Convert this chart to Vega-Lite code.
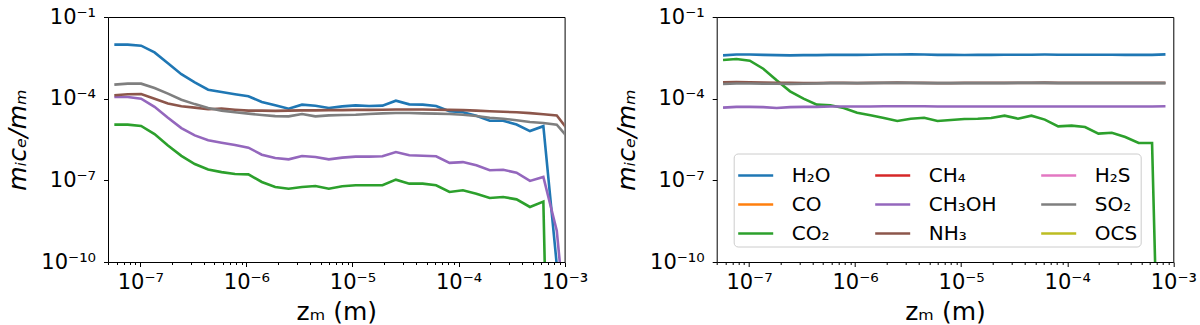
{
  "$schema": "https://vega.github.io/schema/vega-lite/v6.json",
  "padding": {"left": 5, "top": 5, "right": 5, "bottom": 5},
  "bounds": "flush",
  "spacing": 151.7,
  "datasets": {
    "L": [
      {"s": "H₂O", "z": 5.69e-8, "m": 9.64e-3}, {"s": "H₂O", "z": 7.61e-8, "m": 9.64e-3}, {"s": "H₂O", "z": 1.018e-7, "m": 8.85e-3}, {"s": "H₂O", "z": 1.362e-7, "m": 5.01e-3}, {"s": "H₂O", "z": 1.822e-7, "m": 2.0e-3}, {"s": "H₂O", "z": 2.438e-7, "m": 7.94e-4}, {"s": "H₂O", "z": 3.262e-7, "m": 3.98e-4}, {"s": "H₂O", "z": 4.363e-7, "m": 2.14e-4}, {"s": "H₂O", "z": 5.837e-7, "m": 1.76e-4}, {"s": "H₂O", "z": 7.809e-7, "m": 1.45e-4}, {"s": "H₂O", "z": 1.045e-6, "m": 1.22e-4}, {"s": "H₂O", "z": 1.398e-6, "m": 7.55e-5}, {"s": "H₂O", "z": 1.870e-6, "m": 5.69e-5}, {"s": "H₂O", "z": 2.502e-6, "m": 4.30e-5}, {"s": "H₂O", "z": 3.347e-6, "m": 6.03e-5}, {"s": "H₂O", "z": 4.477e-6, "m": 5.53e-5}, {"s": "H₂O", "z": 5.990e-6, "m": 4.54e-5}, {"s": "H₂O", "z": 8.013e-6, "m": 5.22e-5}, {"s": "H₂O", "z": 1.072e-5, "m": 5.69e-5}, {"s": "H₂O", "z": 1.434e-5, "m": 5.37e-5}, {"s": "H₂O", "z": 1.919e-5, "m": 5.53e-5}, {"s": "H₂O", "z": 2.567e-5, "m": 8.45e-5}, {"s": "H₂O", "z": 3.434e-5, "m": 6.19e-5}, {"s": "H₂O", "z": 4.594e-5, "m": 6.03e-5}, {"s": "H₂O", "z": 6.146e-5, "m": 5.37e-5}, {"s": "H₂O", "z": 8.222e-5, "m": 3.47e-5}, {"s": "H₂O", "z": 1.100e-4, "m": 3.16e-5}, {"s": "H₂O", "z": 1.472e-4, "m": 2.34e-5}, {"s": "H₂O", "z": 1.969e-4, "m": 1.55e-5}, {"s": "H₂O", "z": 2.634e-4, "m": 1.55e-5}, {"s": "H₂O", "z": 3.524e-4, "m": 1.12e-5}, {"s": "H₂O", "z": 4.714e-4, "m": 6.46e-6}, {"s": "H₂O", "z": 6.306e-4, "m": 9.77e-6}, {"s": "H₂O", "z": 8.437e-4, "m": 7.9e-11}, {"s": "H₂O", "z": 1.129e-3, "m": 1e-14},

      {"s": "CO₂", "z": 5.69e-8, "m": 1.11e-5}, {"s": "CO₂", "z": 7.61e-8, "m": 1.11e-5}, {"s": "CO₂", "z": 1.018e-7, "m": 9.91e-6}, {"s": "CO₂", "z": 1.362e-7, "m": 5.01e-6}, {"s": "CO₂", "z": 1.822e-7, "m": 1.91e-6}, {"s": "CO₂", "z": 2.438e-7, "m": 7.94e-7}, {"s": "CO₂", "z": 3.262e-7, "m": 3.98e-7}, {"s": "CO₂", "z": 4.363e-7, "m": 2.51e-7}, {"s": "CO₂", "z": 5.837e-7, "m": 2.0e-7}, {"s": "CO₂", "z": 7.809e-7, "m": 1.70e-7}, {"s": "CO₂", "z": 1.045e-6, "m": 1.66e-7}, {"s": "CO₂", "z": 1.398e-6, "m": 8.71e-8}, {"s": "CO₂", "z": 1.870e-6, "m": 5.69e-8}, {"s": "CO₂", "z": 2.502e-6, "m": 4.94e-8}, {"s": "CO₂", "z": 3.347e-6, "m": 5.69e-8}, {"s": "CO₂", "z": 4.477e-6, "m": 6.19e-8}, {"s": "CO₂", "z": 5.990e-6, "m": 4.94e-8}, {"s": "CO₂", "z": 8.013e-6, "m": 6.03e-8}, {"s": "CO₂", "z": 1.072e-5, "m": 6.56e-8}, {"s": "CO₂", "z": 1.434e-5, "m": 6.56e-8}, {"s": "CO₂", "z": 1.919e-5, "m": 6.56e-8}, {"s": "CO₂", "z": 2.567e-5, "m": 1.06e-7}, {"s": "CO₂", "z": 3.434e-5, "m": 7.55e-8}, {"s": "CO₂", "z": 4.594e-5, "m": 7.55e-8}, {"s": "CO₂", "z": 6.146e-5, "m": 6.56e-8}, {"s": "CO₂", "z": 8.222e-5, "m": 3.72e-8}, {"s": "CO₂", "z": 1.100e-4, "m": 4.30e-8}, {"s": "CO₂", "z": 1.472e-4, "m": 3.24e-8}, {"s": "CO₂", "z": 1.969e-4, "m": 2.24e-8}, {"s": "CO₂", "z": 2.634e-4, "m": 2.45e-8}, {"s": "CO₂", "z": 3.524e-4, "m": 2.0e-8}, {"s": "CO₂", "z": 4.714e-4, "m": 1.05e-8}, {"s": "CO₂", "z": 6.306e-4, "m": 1.66e-8}, {"s": "CO₂", "z": 8.437e-4, "m": 1e-30}, {"s": "CO₂", "z": 1.129e-3, "m": 1e-30},

      {"s": "CH₃OH", "z": 5.69e-8, "m": 1.15e-4}, {"s": "CH₃OH", "z": 7.61e-8, "m": 1.15e-4}, {"s": "CH₃OH", "z": 1.018e-7, "m": 1.0e-4}, {"s": "CH₃OH", "z": 1.362e-7, "m": 5.01e-5}, {"s": "CH₃OH", "z": 1.822e-7, "m": 2.0e-5}, {"s": "CH₃OH", "z": 2.438e-7, "m": 8.32e-6}, {"s": "CH₃OH", "z": 3.262e-7, "m": 4.47e-6}, {"s": "CH₃OH", "z": 4.363e-7, "m": 2.95e-6}, {"s": "CH₃OH", "z": 5.837e-7, "m": 2.40e-6}, {"s": "CH₃OH", "z": 7.809e-7, "m": 2.0e-6}, {"s": "CH₃OH", "z": 1.045e-6, "m": 1.58e-6}, {"s": "CH₃OH", "z": 1.398e-6, "m": 8.77e-7}, {"s": "CH₃OH", "z": 1.870e-6, "m": 6.61e-7}, {"s": "CH₃OH", "z": 2.502e-6, "m": 5.89e-7}, {"s": "CH₃OH", "z": 3.347e-6, "m": 7.83e-7}, {"s": "CH₃OH", "z": 4.477e-6, "m": 7.19e-7}, {"s": "CH₃OH", "z": 5.990e-6, "m": 5.89e-7}, {"s": "CH₃OH", "z": 8.013e-6, "m": 6.81e-7}, {"s": "CH₃OH", "z": 1.072e-5, "m": 7.41e-7}, {"s": "CH₃OH", "z": 1.434e-5, "m": 7.41e-7}, {"s": "CH₃OH", "z": 1.919e-5, "m": 7.62e-7}, {"s": "CH₃OH", "z": 2.567e-5, "m": 1.10e-6}, {"s": "CH₃OH", "z": 3.434e-5, "m": 8.32e-7}, {"s": "CH₃OH", "z": 4.594e-5, "m": 8.05e-7}, {"s": "CH₃OH", "z": 6.146e-5, "m": 7.62e-7}, {"s": "CH₃OH", "z": 8.222e-5, "m": 4.37e-7}, {"s": "CH₃OH", "z": 1.100e-4, "m": 4.68e-7}, {"s": "CH₃OH", "z": 1.472e-4, "m": 3.55e-7}, {"s": "CH₃OH", "z": 1.969e-4, "m": 2.34e-7}, {"s": "CH₃OH", "z": 2.634e-4, "m": 2.45e-7}, {"s": "CH₃OH", "z": 3.524e-4, "m": 1.91e-7}, {"s": "CH₃OH", "z": 4.714e-4, "m": 9.55e-8}, {"s": "CH₃OH", "z": 6.306e-4, "m": 1.33e-7}, {"s": "CH₃OH", "z": 8.437e-4, "m": 1.41e-9}, {"s": "CH₃OH", "z": 1.129e-3, "m": 1e-14},

      {"s": "NH₃", "z": 5.69e-8, "m": 1.33e-4}, {"s": "NH₃", "z": 7.61e-8, "m": 1.45e-4}, {"s": "NH₃", "z": 1.018e-7, "m": 1.49e-4}, {"s": "NH₃", "z": 1.362e-7, "m": 1.0e-4}, {"s": "NH₃", "z": 1.822e-7, "m": 6.61e-5}, {"s": "NH₃", "z": 2.438e-7, "m": 5.25e-5}, {"s": "NH₃", "z": 3.262e-7, "m": 4.68e-5}, {"s": "NH₃", "z": 4.363e-7, "m": 4.07e-5}, {"s": "NH₃", "z": 5.837e-7, "m": 4.30e-5}, {"s": "NH₃", "z": 7.809e-7, "m": 3.94e-5}, {"s": "NH₃", "z": 1.045e-6, "m": 3.63e-5}, {"s": "NH₃", "z": 1.398e-6, "m": 3.63e-5}, {"s": "NH₃", "z": 1.870e-6, "m": 3.55e-5}, {"s": "NH₃", "z": 2.502e-6, "m": 3.63e-5}, {"s": "NH₃", "z": 3.347e-6, "m": 3.72e-5}, {"s": "NH₃", "z": 4.477e-6, "m": 3.72e-5}, {"s": "NH₃", "z": 5.990e-6, "m": 3.80e-5}, {"s": "NH₃", "z": 8.013e-6, "m": 3.80e-5}, {"s": "NH₃", "z": 1.072e-5, "m": 3.89e-5}, {"s": "NH₃", "z": 1.434e-5, "m": 3.89e-5}, {"s": "NH₃", "z": 1.919e-5, "m": 3.94e-5}, {"s": "NH₃", "z": 2.567e-5, "m": 3.98e-5}, {"s": "NH₃", "z": 3.434e-5, "m": 3.98e-5}, {"s": "NH₃", "z": 4.594e-5, "m": 3.98e-5}, {"s": "NH₃", "z": 6.146e-5, "m": 3.94e-5}, {"s": "NH₃", "z": 8.222e-5, "m": 3.89e-5}, {"s": "NH₃", "z": 1.100e-4, "m": 3.80e-5}, {"s": "NH₃", "z": 1.472e-4, "m": 3.63e-5}, {"s": "NH₃", "z": 1.969e-4, "m": 3.47e-5}, {"s": "NH₃", "z": 2.634e-4, "m": 3.31e-5}, {"s": "NH₃", "z": 3.524e-4, "m": 3.16e-5}, {"s": "NH₃", "z": 4.714e-4, "m": 2.95e-5}, {"s": "NH₃", "z": 6.306e-4, "m": 2.69e-5}, {"s": "NH₃", "z": 8.437e-4, "m": 2.40e-5}, {"s": "NH₃", "z": 1.129e-3, "m": 5.62e-6},

      {"s": "SO₂", "z": 5.69e-8, "m": 3.27e-4}, {"s": "SO₂", "z": 7.61e-8, "m": 3.56e-4}, {"s": "SO₂", "z": 1.018e-7, "m": 3.56e-4}, {"s": "SO₂", "z": 1.362e-7, "m": 2.47e-4}, {"s": "SO₂", "z": 1.822e-7, "m": 1.53e-4}, {"s": "SO₂", "z": 2.438e-7, "m": 9.18e-5}, {"s": "SO₂", "z": 3.262e-7, "m": 6.31e-5}, {"s": "SO₂", "z": 4.363e-7, "m": 4.57e-5}, {"s": "SO₂", "z": 5.837e-7, "m": 3.63e-5}, {"s": "SO₂", "z": 7.809e-7, "m": 3.16e-5}, {"s": "SO₂", "z": 1.045e-6, "m": 2.82e-5}, {"s": "SO₂", "z": 1.398e-6, "m": 2.51e-5}, {"s": "SO₂", "z": 1.870e-6, "m": 2.29e-5}, {"s": "SO₂", "z": 2.502e-6, "m": 2.24e-5}, {"s": "SO₂", "z": 3.347e-6, "m": 2.74e-5}, {"s": "SO₂", "z": 4.477e-6, "m": 2.24e-5}, {"s": "SO₂", "z": 5.990e-6, "m": 2.44e-5}, {"s": "SO₂", "z": 8.013e-6, "m": 2.51e-5}, {"s": "SO₂", "z": 1.072e-5, "m": 2.58e-5}, {"s": "SO₂", "z": 1.434e-5, "m": 2.74e-5}, {"s": "SO₂", "z": 1.919e-5, "m": 2.89e-5}, {"s": "SO₂", "z": 2.567e-5, "m": 2.98e-5}, {"s": "SO₂", "z": 3.434e-5, "m": 2.98e-5}, {"s": "SO₂", "z": 4.594e-5, "m": 2.89e-5}, {"s": "SO₂", "z": 6.146e-5, "m": 2.82e-5}, {"s": "SO₂", "z": 8.222e-5, "m": 2.74e-5}, {"s": "SO₂", "z": 1.100e-4, "m": 2.58e-5}, {"s": "SO₂", "z": 1.472e-4, "m": 2.31e-5}, {"s": "SO₂", "z": 1.969e-4, "m": 2.0e-5}, {"s": "SO₂", "z": 2.634e-4, "m": 1.84e-5}, {"s": "SO₂", "z": 3.524e-4, "m": 1.60e-5}, {"s": "SO₂", "z": 4.714e-4, "m": 1.39e-5}, {"s": "SO₂", "z": 6.306e-4, "m": 1.28e-5}, {"s": "SO₂", "z": 8.437e-4, "m": 1.10e-5}, {"s": "SO₂", "z": 1.129e-3, "m": 2.95e-6}
    ],
    "R": [
      {"s": "H₂O", "z": 5.69e-8, "m": 3.89e-3}, {"s": "H₂O", "z": 7.61e-8, "m": 4.17e-3}, {"s": "H₂O", "z": 1.018e-7, "m": 4.17e-3}, {"s": "H₂O", "z": 1.362e-7, "m": 4.07e-3}, {"s": "H₂O", "z": 1.822e-7, "m": 3.98e-3}, {"s": "H₂O", "z": 2.438e-7, "m": 3.89e-3}, {"s": "H₂O", "z": 3.262e-7, "m": 3.98e-3}, {"s": "H₂O", "z": 4.363e-7, "m": 3.98e-3}, {"s": "H₂O", "z": 5.837e-7, "m": 4.07e-3}, {"s": "H₂O", "z": 7.809e-7, "m": 4.07e-3}, {"s": "H₂O", "z": 1.045e-6, "m": 4.07e-3}, {"s": "H₂O", "z": 1.398e-6, "m": 4.12e-3}, {"s": "H₂O", "z": 1.870e-6, "m": 4.17e-3}, {"s": "H₂O", "z": 2.502e-6, "m": 4.17e-3}, {"s": "H₂O", "z": 3.347e-6, "m": 4.22e-3}, {"s": "H₂O", "z": 4.477e-6, "m": 4.17e-3}, {"s": "H₂O", "z": 5.990e-6, "m": 4.07e-3}, {"s": "H₂O", "z": 8.013e-6, "m": 4.07e-3}, {"s": "H₂O", "z": 1.072e-5, "m": 4.03e-3}, {"s": "H₂O", "z": 1.434e-5, "m": 4.07e-3}, {"s": "H₂O", "z": 1.919e-5, "m": 4.07e-3}, {"s": "H₂O", "z": 2.567e-5, "m": 4.12e-3}, {"s": "H₂O", "z": 3.434e-5, "m": 4.12e-3}, {"s": "H₂O", "z": 4.594e-5, "m": 4.12e-3}, {"s": "H₂O", "z": 6.146e-5, "m": 4.17e-3}, {"s": "H₂O", "z": 8.222e-5, "m": 4.12e-3}, {"s": "H₂O", "z": 1.100e-4, "m": 4.12e-3}, {"s": "H₂O", "z": 1.472e-4, "m": 4.12e-3}, {"s": "H₂O", "z": 1.969e-4, "m": 4.12e-3}, {"s": "H₂O", "z": 2.634e-4, "m": 4.12e-3}, {"s": "H₂O", "z": 3.524e-4, "m": 4.07e-3}, {"s": "H₂O", "z": 4.714e-4, "m": 4.07e-3}, {"s": "H₂O", "z": 6.306e-4, "m": 4.07e-3}, {"s": "H₂O", "z": 8.437e-4, "m": 4.22e-3},

      {"s": "CO₂", "z": 5.69e-8, "m": 2.63e-3}, {"s": "CO₂", "z": 7.61e-8, "m": 2.86e-3}, {"s": "CO₂", "z": 1.018e-7, "m": 2.49e-3}, {"s": "CO₂", "z": 1.362e-7, "m": 1.26e-3}, {"s": "CO₂", "z": 1.822e-7, "m": 4.72e-4}, {"s": "CO₂", "z": 2.438e-7, "m": 1.86e-4}, {"s": "CO₂", "z": 3.262e-7, "m": 1.0e-4}, {"s": "CO₂", "z": 4.363e-7, "m": 6.03e-5}, {"s": "CO₂", "z": 5.837e-7, "m": 5.69e-5}, {"s": "CO₂", "z": 7.809e-7, "m": 4.54e-5}, {"s": "CO₂", "z": 1.045e-6, "m": 3.06e-5}, {"s": "CO₂", "z": 1.398e-6, "m": 2.44e-5}, {"s": "CO₂", "z": 1.870e-6, "m": 1.95e-5}, {"s": "CO₂", "z": 2.502e-6, "m": 1.51e-5}, {"s": "CO₂", "z": 3.347e-6, "m": 1.84e-5}, {"s": "CO₂", "z": 4.477e-6, "m": 2.0e-5}, {"s": "CO₂", "z": 5.990e-6, "m": 1.51e-5}, {"s": "CO₂", "z": 8.013e-6, "m": 1.64e-5}, {"s": "CO₂", "z": 1.072e-5, "m": 1.79e-5}, {"s": "CO₂", "z": 1.434e-5, "m": 1.84e-5}, {"s": "CO₂", "z": 1.919e-5, "m": 1.95e-5}, {"s": "CO₂", "z": 2.567e-5, "m": 2.38e-5}, {"s": "CO₂", "z": 3.434e-5, "m": 1.84e-5}, {"s": "CO₂", "z": 4.594e-5, "m": 2.38e-5}, {"s": "CO₂", "z": 6.146e-5, "m": 1.70e-5}, {"s": "CO₂", "z": 8.222e-5, "m": 9.64e-6}, {"s": "CO₂", "z": 1.100e-4, "m": 1.02e-5}, {"s": "CO₂", "z": 1.472e-4, "m": 9.12e-6}, {"s": "CO₂", "z": 1.969e-4, "m": 5.18e-6}, {"s": "CO₂", "z": 2.634e-4, "m": 5.62e-6}, {"s": "CO₂", "z": 3.524e-4, "m": 3.91e-6}, {"s": "CO₂", "z": 4.714e-4, "m": 2.36e-6}, {"s": "CO₂", "z": 6.306e-4, "m": 2.36e-6}, {"s": "CO₂", "z": 8.437e-4, "m": 1e-25},

      {"s": "CH₃OH", "z": 5.69e-8, "m": 4.68e-5}, {"s": "CH₃OH", "z": 7.61e-8, "m": 5.01e-5}, {"s": "CH₃OH", "z": 1.018e-7, "m": 5.01e-5}, {"s": "CH₃OH", "z": 1.362e-7, "m": 4.90e-5}, {"s": "CH₃OH", "z": 1.822e-7, "m": 4.57e-5}, {"s": "CH₃OH", "z": 2.438e-7, "m": 4.90e-5}, {"s": "CH₃OH", "z": 3.262e-7, "m": 5.01e-5}, {"s": "CH₃OH", "z": 4.363e-7, "m": 5.01e-5}, {"s": "CH₃OH", "z": 5.837e-7, "m": 5.13e-5}, {"s": "CH₃OH", "z": 7.809e-7, "m": 5.13e-5}, {"s": "CH₃OH", "z": 1.045e-6, "m": 5.13e-5}, {"s": "CH₃OH", "z": 1.398e-6, "m": 5.13e-5}, {"s": "CH₃OH", "z": 1.870e-6, "m": 5.25e-5}, {"s": "CH₃OH", "z": 2.502e-6, "m": 5.25e-5}, {"s": "CH₃OH", "z": 3.347e-6, "m": 5.25e-5}, {"s": "CH₃OH", "z": 4.477e-6, "m": 5.25e-5}, {"s": "CH₃OH", "z": 5.990e-6, "m": 5.13e-5}, {"s": "CH₃OH", "z": 8.013e-6, "m": 5.13e-5}, {"s": "CH₃OH", "z": 1.072e-5, "m": 5.13e-5}, {"s": "CH₃OH", "z": 1.434e-5, "m": 5.13e-5}, {"s": "CH₃OH", "z": 1.919e-5, "m": 5.13e-5}, {"s": "CH₃OH", "z": 2.567e-5, "m": 5.13e-5}, {"s": "CH₃OH", "z": 3.434e-5, "m": 5.13e-5}, {"s": "CH₃OH", "z": 4.594e-5, "m": 5.13e-5}, {"s": "CH₃OH", "z": 6.146e-5, "m": 5.13e-5}, {"s": "CH₃OH", "z": 8.222e-5, "m": 5.13e-5}, {"s": "CH₃OH", "z": 1.100e-4, "m": 5.13e-5}, {"s": "CH₃OH", "z": 1.472e-4, "m": 5.13e-5}, {"s": "CH₃OH", "z": 1.969e-4, "m": 5.13e-5}, {"s": "CH₃OH", "z": 2.634e-4, "m": 5.13e-5}, {"s": "CH₃OH", "z": 3.524e-4, "m": 5.13e-5}, {"s": "CH₃OH", "z": 4.714e-4, "m": 5.13e-5}, {"s": "CH₃OH", "z": 6.306e-4, "m": 5.13e-5}, {"s": "CH₃OH", "z": 8.437e-4, "m": 5.25e-5},

      {"s": "NH₃", "z": 5.69e-8, "m": 3.98e-4}, {"s": "NH₃", "z": 7.61e-8, "m": 4.07e-4}, {"s": "NH₃", "z": 1.018e-7, "m": 3.98e-4}, {"s": "NH₃", "z": 1.362e-7, "m": 3.89e-4}, {"s": "NH₃", "z": 1.822e-7, "m": 3.80e-4}, {"s": "NH₃", "z": 2.438e-7, "m": 3.80e-4}, {"s": "NH₃", "z": 3.262e-7, "m": 3.72e-4}, {"s": "NH₃", "z": 4.363e-7, "m": 3.72e-4}, {"s": "NH₃", "z": 5.837e-7, "m": 3.80e-4}, {"s": "NH₃", "z": 7.809e-7, "m": 3.80e-4}, {"s": "NH₃", "z": 1.045e-6, "m": 3.72e-4}, {"s": "NH₃", "z": 1.398e-6, "m": 3.80e-4}, {"s": "NH₃", "z": 1.870e-6, "m": 3.80e-4}, {"s": "NH₃", "z": 2.502e-6, "m": 3.89e-4}, {"s": "NH₃", "z": 3.347e-6, "m": 3.80e-4}, {"s": "NH₃", "z": 4.477e-6, "m": 3.80e-4}, {"s": "NH₃", "z": 5.990e-6, "m": 3.72e-4}, {"s": "NH₃", "z": 8.013e-6, "m": 3.72e-4}, {"s": "NH₃", "z": 1.072e-5, "m": 3.80e-4}, {"s": "NH₃", "z": 1.434e-5, "m": 3.80e-4}, {"s": "NH₃", "z": 1.919e-5, "m": 3.80e-4}, {"s": "NH₃", "z": 2.567e-5, "m": 3.80e-4}, {"s": "NH₃", "z": 3.434e-5, "m": 3.80e-4}, {"s": "NH₃", "z": 4.594e-5, "m": 3.80e-4}, {"s": "NH₃", "z": 6.146e-5, "m": 3.89e-4}, {"s": "NH₃", "z": 8.222e-5, "m": 3.80e-4}, {"s": "NH₃", "z": 1.100e-4, "m": 3.80e-4}, {"s": "NH₃", "z": 1.472e-4, "m": 3.80e-4}, {"s": "NH₃", "z": 1.969e-4, "m": 3.80e-4}, {"s": "NH₃", "z": 2.634e-4, "m": 3.80e-4}, {"s": "NH₃", "z": 3.524e-4, "m": 3.80e-4}, {"s": "NH₃", "z": 4.714e-4, "m": 3.80e-4}, {"s": "NH₃", "z": 6.306e-4, "m": 3.80e-4}, {"s": "NH₃", "z": 8.437e-4, "m": 3.80e-4},

      {"s": "SO₂", "z": 5.69e-8, "m": 3.47e-4}, {"s": "SO₂", "z": 7.61e-8, "m": 3.63e-4}, {"s": "SO₂", "z": 1.018e-7, "m": 3.63e-4}, {"s": "SO₂", "z": 1.362e-7, "m": 3.55e-4}, {"s": "SO₂", "z": 1.822e-7, "m": 3.55e-4}, {"s": "SO₂", "z": 2.438e-7, "m": 3.47e-4}, {"s": "SO₂", "z": 3.262e-7, "m": 3.55e-4}, {"s": "SO₂", "z": 4.363e-7, "m": 3.63e-4}, {"s": "SO₂", "z": 5.837e-7, "m": 3.72e-4}, {"s": "SO₂", "z": 7.809e-7, "m": 3.72e-4}, {"s": "SO₂", "z": 1.045e-6, "m": 3.72e-4}, {"s": "SO₂", "z": 1.398e-6, "m": 3.72e-4}, {"s": "SO₂", "z": 1.870e-6, "m": 3.80e-4}, {"s": "SO₂", "z": 2.502e-6, "m": 3.80e-4}, {"s": "SO₂", "z": 3.347e-6, "m": 3.80e-4}, {"s": "SO₂", "z": 4.477e-6, "m": 3.72e-4}, {"s": "SO₂", "z": 5.990e-6, "m": 3.72e-4}, {"s": "SO₂", "z": 8.013e-6, "m": 3.72e-4}, {"s": "SO₂", "z": 1.072e-5, "m": 3.72e-4}, {"s": "SO₂", "z": 1.434e-5, "m": 3.72e-4}, {"s": "SO₂", "z": 1.919e-5, "m": 3.72e-4}, {"s": "SO₂", "z": 2.567e-5, "m": 3.72e-4}, {"s": "SO₂", "z": 3.434e-5, "m": 3.80e-4}, {"s": "SO₂", "z": 4.594e-5, "m": 3.80e-4}, {"s": "SO₂", "z": 6.146e-5, "m": 3.80e-4}, {"s": "SO₂", "z": 8.222e-5, "m": 3.72e-4}, {"s": "SO₂", "z": 1.100e-4, "m": 3.72e-4}, {"s": "SO₂", "z": 1.472e-4, "m": 3.72e-4}, {"s": "SO₂", "z": 1.969e-4, "m": 3.72e-4}, {"s": "SO₂", "z": 2.634e-4, "m": 3.72e-4}, {"s": "SO₂", "z": 3.524e-4, "m": 3.72e-4}, {"s": "SO₂", "z": 4.714e-4, "m": 3.72e-4}, {"s": "SO₂", "z": 6.306e-4, "m": 3.72e-4}, {"s": "SO₂", "z": 8.437e-4, "m": 3.72e-4}
    ]
  },
  "resolve": {"scale": {"color": "shared"}, "legend": {"color": "independent"}},
  "hconcat": [
    {
      "width": 456.6,
      "height": 245,
      "data": {"name": "L"},
      "mark": {"type": "line", "clip": true, "strokeWidth": 2.6},
      "encoding": {
        "x": {"field": "z", "type": "quantitative",
          "scale": {"type": "log", "domain": [4.96e-8, 1e-3], "nice": false},
          "axis": {"title": "zₘ (m)", "titlePadding": 7,
            "values": [5e-8, 6e-8, 7e-8, 8e-8, 9e-8, 1e-7, 2e-7, 3e-7, 4e-7, 5e-7, 6e-7, 7e-7, 8e-7, 9e-7, 1e-6, 2e-6, 3e-6, 4e-6, 5e-6, 6e-6, 7e-6, 8e-6, 9e-6, 1e-5, 2e-5, 3e-5, 4e-5, 5e-5, 6e-5, 7e-5, 8e-5, 9e-5, 1e-4, 2e-4, 3e-4, 4e-4, 5e-4, 6e-4, 7e-4, 8e-4, 9e-4, 1e-3],
            "tickSize": {"condition": {"test": "abs(log(datum.value)/LN10 - round(log(datum.value)/LN10)) < 0.001", "value": 4.5}, "value": 2.5},
            "labelPadding": 5,
            "labelExpr": "abs(log(datum.value)/LN10 - round(log(datum.value)/LN10)) < 0.001 ? '10' + replace(replace(replace(replace(replace(replace(replace('⁻' + format(-round(log(datum.value)/LN10), 'd'), '0', '⁰'), '1', '¹'), '3', '³'), '4', '⁴'), '5', '⁵'), '6', '⁶'), '7', '⁷') : ''"}},
        "y": {"field": "m", "type": "quantitative",
          "scale": {"type": "log", "domain": [1e-10, 1e-1], "nice": false},
          "axis": {"title": "mᵢcₑ/mₘ", "titleFontStyle": "italic", "titlePadding": 10,
            "values": [1e-10, 1e-7, 1e-4, 1e-1], "tickSize": 4.5, "labelPadding": 8,
            "labelExpr": "'10' + replace(replace(replace(replace(replace(replace(replace('⁻' + format(-round(log(datum.value)/LN10), 'd'), '0', '⁰'), '1', '¹'), '3', '³'), '4', '⁴'), '5', '⁵'), '6', '⁶'), '7', '⁷')"}},
        "color": {"field": "s", "type": "nominal",
          "scale": {"domain": ["H₂O", "CO", "CO₂", "CH₄", "CH₃OH", "NH₃", "H₂S", "SO₂", "OCS"],
                    "range": ["#1f77b4", "#ff7f0e", "#2ca02c", "#d62728", "#9467bd", "#8c564b", "#e377c2", "#7f7f7f", "#bcbd22"]},
          "legend": null}
      }
    },
    {
      "width": 456.6,
      "height": 245,
      "data": {"name": "R"},
      "mark": {"type": "line", "clip": true, "strokeWidth": 2.6},
      "encoding": {
        "x": {"field": "z", "type": "quantitative",
          "scale": {"type": "log", "domain": [4.96e-8, 1e-3], "nice": false},
          "axis": {"title": "zₘ (m)", "titlePadding": 7,
            "values": [5e-8, 6e-8, 7e-8, 8e-8, 9e-8, 1e-7, 2e-7, 3e-7, 4e-7, 5e-7, 6e-7, 7e-7, 8e-7, 9e-7, 1e-6, 2e-6, 3e-6, 4e-6, 5e-6, 6e-6, 7e-6, 8e-6, 9e-6, 1e-5, 2e-5, 3e-5, 4e-5, 5e-5, 6e-5, 7e-5, 8e-5, 9e-5, 1e-4, 2e-4, 3e-4, 4e-4, 5e-4, 6e-4, 7e-4, 8e-4, 9e-4, 1e-3],
            "tickSize": {"condition": {"test": "abs(log(datum.value)/LN10 - round(log(datum.value)/LN10)) < 0.001", "value": 4.5}, "value": 2.5},
            "labelPadding": 5,
            "labelExpr": "abs(log(datum.value)/LN10 - round(log(datum.value)/LN10)) < 0.001 ? '10' + replace(replace(replace(replace(replace(replace(replace('⁻' + format(-round(log(datum.value)/LN10), 'd'), '0', '⁰'), '1', '¹'), '3', '³'), '4', '⁴'), '5', '⁵'), '6', '⁶'), '7', '⁷') : ''"}},
        "y": {"field": "m", "type": "quantitative",
          "scale": {"type": "log", "domain": [1e-10, 1e-1], "nice": false},
          "axis": {"title": "mᵢcₑ/mₘ", "titleFontStyle": "italic", "titlePadding": 10,
            "values": [1e-10, 1e-7, 1e-4, 1e-1], "tickSize": 4.5, "labelPadding": 8,
            "labelExpr": "'10' + replace(replace(replace(replace(replace(replace(replace('⁻' + format(-round(log(datum.value)/LN10), 'd'), '0', '⁰'), '1', '¹'), '3', '³'), '4', '⁴'), '5', '⁵'), '6', '⁶'), '7', '⁷')"}},
        "color": {"field": "s", "type": "nominal",
          "scale": {"domain": ["H₂O", "CO", "CO₂", "CH₄", "CH₃OH", "NH₃", "H₂S", "SO₂", "OCS"],
                    "range": ["#1f77b4", "#ff7f0e", "#2ca02c", "#d62728", "#9467bd", "#8c564b", "#e377c2", "#7f7f7f", "#bcbd22"]},
          "legend": {"orient": "none", "legendX": 17, "legendY": 136.5, "columns": 3, "title": null,
            "symbolType": "stroke", "symbolSize": 1225, "symbolStrokeWidth": 2.6,
            "labelFont": "DejaVu Sans", "labelFontSize": 20, "labelColor": "#000", "labelOffset": 17, "labelLimit": 0,
            "padding": 3, "rowPadding": -5.4, "columnPadding": 39,
            "fillColor": "rgba(255,255,255,0.8)", "strokeColor": "#cccccc", "cornerRadius": 4}}
      }
    }
  ],
  "config": {
    "font": "DejaVu Sans",
    "view": {"stroke": "#000000", "strokeWidth": 1},
    "axis": {"domain": false, "grid": false, "tickColor": "#000000", "tickWidth": 1,
      "labelColor": "#000000", "labelFont": "DejaVu Sans", "labelFontSize": 21,
      "titleFont": "DejaVu Sans", "titleFontSize": 25, "titleFontWeight": "normal", "titleColor": "#000000",
      "labelOverlap": false, "labelFlush": false, "labelBound": false}
  }
}
